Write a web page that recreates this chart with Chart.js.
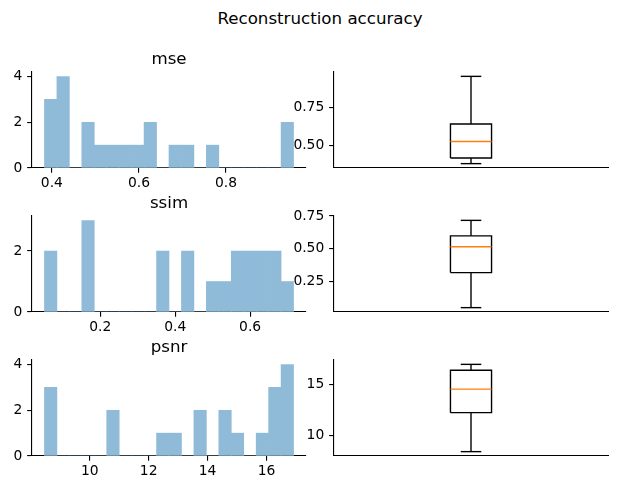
<!DOCTYPE html>
<html>
<head>
<meta charset="utf-8">
<script src="https://cdn.jsdelivr.net/npm/chart.js@4/dist/chart.umd.min.js"></script>
<style>
body { margin: 0; background: #fff; }
#wrap { position: relative; width: 640px; height: 480px; overflow: hidden; }
canvas { position: absolute; }
#suptitle { position: absolute; left: 0; width: 640px; top: 9px; text-align: center;
  font: 16.67px 'DejaVu Sans'; line-height: 20px; color: #000; }
</style>
</head>
<body>
<div id="wrap">
  <div id="suptitle">Reconstruction accuracy</div>
</div>
<script>
// metric names (one row each)
const metrics = ['mse', 'ssim', 'psnr'];

// histogram counts, 20 bins spread between min and max of each metric
const mseCounts  = [3, 4, 0, 2, 1, 1, 1, 1, 2, 0, 1, 1, 0, 1, 0, 0, 0, 0, 0, 2];
const ssimCounts = [2, 0, 0, 3, 0, 0, 0, 0, 0, 2, 0, 2, 0, 1, 1, 2, 2, 2, 2, 1];
const psnrCounts = [3, 0, 0, 0, 0, 2, 0, 0, 0, 1, 1, 0, 2, 0, 2, 1, 0, 1, 3, 4];

// box stats: [min, q1, median, q3, max]
const mseBox  = [0.383, 0.420, 0.528, 0.643, 0.955];
const ssimBox = [0.051, 0.318, 0.515, 0.598, 0.716];
const psnrBox = [8.46, 12.24, 14.52, 16.35, 16.92];

// tick values / labels
const mseHistX  = [0.4, 0.6, 0.8];        const mseHistXLabels  = ['0.4', '0.6', '0.8'];
const ssimHistX = [0.2, 0.4, 0.6];        const ssimHistXLabels = ['0.2', '0.4', '0.6'];
const psnrHistX = [10, 12, 14, 16];       const psnrHistXLabels = ['10', '12', '14', '16'];
const mseHistY  = [0, 2, 4];
const ssimHistY = [0, 2];
const psnrHistY = [0, 2, 4];
const mseBoxY  = [0.5, 0.75];             const mseBoxYLabels  = ['0.50', '0.75'];
const ssimBoxY = [0.25, 0.5, 0.75];       const ssimBoxYLabels = ['0.25', '0.50', '0.75'];
const psnrBoxY = [10, 15];                const psnrBoxYLabels = ['10', '15'];

const rows = [
  {name: metrics[0], counts: mseCounts,  box: mseBox,  hx: mseHistX,  hxl: mseHistXLabels,  hy: mseHistY,  by: mseBoxY,  byl: mseBoxYLabels},
  {name: metrics[1], counts: ssimCounts, box: ssimBox, hx: ssimHistX, hxl: ssimHistXLabels, hy: ssimHistY, by: ssimBoxY, byl: ssimBoxYLabels},
  {name: metrics[2], counts: psnrCounts, box: psnrBox, hx: psnrHistX, hxl: psnrHistXLabels, hy: psnrHistY, by: psnrBoxY, byl: psnrBoxYLabels},
];

Chart.defaults.font.family = "'DejaVu Sans', sans-serif";
Chart.defaults.font.size = 13.89;
Chart.defaults.color = '#000';

const rowTops = [72, 216, 360];
const axH = 96;
const lw = 1.11;
const black = '#000';

function addCanvas(left, top, w, h) {
  const c = document.createElement('canvas');
  c.width = w; c.height = h;
  c.style.left = left + 'px'; c.style.top = top + 'px';
  document.getElementById('wrap').appendChild(c);
  return c.getContext('2d');
}

function fixedTicks(values) {
  return function (scale) { scale.ticks = values.map(v => ({value: v})); };
}

function tickAxis(extra) {
  return Object.assign({
    grid: {display: true, offset: false, drawOnChartArea: false, drawTicks: true, tickLength: 4.86, color: black, lineWidth: lw},
    border: {display: true, color: black, width: lw},
  }, extra);
}

rows.forEach((r, i) => {
  const T = rowTops[i];
  const lo = r.box[0], hi = r.box[4];
  const span = hi - lo;
  const bw = span / r.counts.length;
  const bins = r.counts.map((c, k) => ({x: lo + (k + 0.5) * bw, y: c}));

  // histogram
  new Chart(addCanvas(0, T - 30, 320, 30 + axH + 28), {
    type: 'bar',
    data: {datasets: [{data: bins, backgroundColor: '#8fbbd9', borderWidth: 0,
      barPercentage: 1, categoryPercentage: 1}]},
    options: {
      responsive: false, animation: false, devicePixelRatio: 1,
      layout: {padding: {top: 0, right: 14, bottom: 0, left: 0}},
      plugins: {
        legend: {display: false}, tooltip: {enabled: false},
        title: {display: true, text: r.name, fullSize: false, color: black,
          font: {size: 16.67, weight: 'normal'}, padding: {top: 8, bottom: 2}},
      },
      scales: {
        x: tickAxis({type: 'linear', offset: false, min: lo - 0.05 * span, max: hi + 0.05 * span,
          afterBuildTicks: fixedTicks(r.hx),
          afterFit: s => { s.height = 28; },
          ticks: {padding: 2, maxRotation: 0, autoSkip: false, callback: (v, k) => r.hxl[k]}}),
        y: tickAxis({type: 'linear', min: 0, max: Math.max(...r.counts) * 1.05,
          afterBuildTicks: fixedTicks(r.hy),
          afterFit: s => { s.width = 32; },
          ticks: {padding: 4.86, callback: v => String(v)}}),
      },
    },
  });

  // box plot
  const [mn, q1, md, q3, mx] = r.box;
  const seg = pts => pts.map(p => ({x: p[0], y: p[1]}));
  const line = (pts, color) => ({data: seg(pts), borderColor: color, borderWidth: 1.39,
    pointRadius: 0, fill: false, tension: 0, borderJoinStyle: 'miter'});
  new Chart(addCanvas(280, T - 16, 360, 16 + axH + 16), {
    type: 'line',
    data: {datasets: [
      line([[0.925, md], [1.075, md]], '#ff7f0e'),
      line([[0.925, q1], [1.075, q1], [1.075, q3], [0.925, q3], [0.925, q1]], black),
      line([[1, q3], [1, mx]], black),
      line([[1, q1], [1, mn]], black),
      line([[0.9625, mx], [1.0375, mx]], black),
      line([[0.9625, mn], [1.0375, mn]], black),
    ]},
    options: {
      responsive: false, animation: false, devicePixelRatio: 1,
      layout: {padding: {top: 16, right: 32, bottom: 0, left: 0}},
      plugins: {legend: {display: false}, tooltip: {enabled: false}, title: {display: false}},
      scales: {
        x: {type: 'linear', min: 0.5, max: 1.5, grid: {display: false},
          border: {display: true, color: black, width: lw},
          ticks: {display: false}, afterFit: s => { s.height = 16; }},
        y: tickAxis({type: 'linear', min: mn - 0.05 * (mx - mn), max: mx + 0.05 * (mx - mn),
          afterBuildTicks: fixedTicks(r.by),
          afterFit: s => { s.width = 54; },
          ticks: {padding: 4.86, callback: (v, k) => r.byl[k]}}),
      },
    },
  });
});
</script>
</body>
</html>
